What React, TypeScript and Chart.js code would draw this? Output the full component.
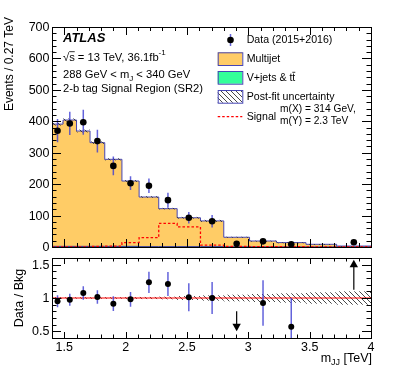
import React, { useEffect, useRef } from 'react';
import { Chart, registerables } from 'chart.js';
Chart.register(...registerables);

// ---------------- data ----------------
const binEdges = [1.40, 1.49, 1.60, 1.71, 1.83, 1.97, 2.11, 2.27, 2.42, 2.61, 2.80, 3.01, 3.23, 3.47, 3.72, 4.00];
const multijet = [389, 402, 367, 330, 277, 208, 158, 121, 92, 82, 30.5, 18.7, 13.8, 8.5, 2.9];
const vjets = [2, 2, 2, 2, 2, 2, 1, 1, 1, 1, 0.5, 0.3, 0.2, 0.1, 0.1];
const bkgRelUnc = [0.012, 0.012, 0.012, 0.012, 0.012, 0.014, 0.016, 0.02, 0.03, 0.04, 0.05, 0.06, 0.07, 0.085, 0.1];
const signal = [0, 0, 0.5, 2, 3, 14, 30, 75, 64, 6, 2, 1, 1, 0.5, 0.5];
const dataVals: (number | null)[] = [370, 393, 397, 337, 258, 203, 195, 149, 93, 82, 10, 18, 8.6, null, 15];
const dataErr: (number | null)[] = [37, 37, 40, 36, 30, 22, 23, 24, 18, 20, 3.6, 4.7, 3.1, null, 3.8];
const ratioVals: (number | null)[] = [0.95, 0.975, 1.075, 1.015, 0.915, 0.98, 1.235, 1.21, 1.01, 1.0, null, 0.925, 0.57, null, null];
const ratioErr: (number | null)[] = [0.09, 0.09, 0.1, 0.1, 0.11, 0.11, 0.16, 0.18, 0.21, 0.24, null, 0.34, 0.43, null, null];
const arrowX = [2.905, 3.86];
const arrowFrom = [0.8, 1.125];
const arrowTo = [0.5, 1.575];
const xTickValues = [1.5, 2, 2.5, 3, 3.5, 4];
const xTickLabels = ['1.5', '2', '2.5', '3', '3.5', '4'];
const yTickValues = [0, 100, 200, 300, 400, 500, 600, 700];
const yTickLabels = ['0', '100', '200', '300', '400', '500', '600', '700'];
const rTickValues = [0.5, 1, 1.5];
const rTickLabels = ['0.5', '1', '1.5'];

const FONT = '"Liberation Sans", Arial, Helvetica, sans-serif';
const fnt = (size: number, style = '') => `${style} ${size}px ${FONT}`.trim();

const ORANGE = '#ffcc66';
const GREEN = '#33ff99';
const BLUE_EDGE = '#4646b4';
const ERR_BLUE = 'rgba(60,60,210,0.8)';

const centers = binEdges.slice(0, -1).map((e, i) => (e + binEdges[i + 1]) / 2);
const total = multijet.map((v, i) => v + vjets[i]);
const histPoints = (vals: number[]) => binEdges.map((e, i) => ({ x: e, y: vals[Math.min(i, vals.length - 1)] }));

let hatchPattern: CanvasPattern | null = null;
function getHatch(ctx: CanvasRenderingContext2D) {
  if (hatchPattern) return hatchPattern;
  const c = document.createElement('canvas');
  c.width = 5; c.height = 5;
  const g = c.getContext('2d')!;
  g.strokeStyle = '#333';
  g.lineWidth = 0.9;
  g.beginPath();
  g.moveTo(-1, -1); g.lineTo(6, 6);
  g.moveTo(-1, 4); g.lineTo(1, 6);
  g.moveTo(4, -1); g.lineTo(6, 1);
  g.stroke();
  hatchPattern = ctx.createPattern(c, 'repeat');
  return hatchPattern!;
}

type Part = { t: string; sub?: boolean; sup?: boolean; over?: boolean };
function drawRich(ctx: CanvasRenderingContext2D, x: number, y: number, parts: Part[], size: number, align: 'left' | 'right' = 'left', style = '') {
  const sizes = parts.map(p => (p.sub || p.sup ? size * 0.72 : size));
  const widths = parts.map((p, i) => { ctx.font = fnt(sizes[i], style); return ctx.measureText(p.t).width; });
  const totalW = widths.reduce((a, b) => a + b, 0);
  let cx = align === 'right' ? x - totalW : x;
  ctx.textAlign = 'left';
  ctx.textBaseline = 'middle';
  parts.forEach((p, i) => {
    ctx.font = fnt(sizes[i], style);
    let dy = 0;
    if (p.sub) dy = size * 0.32;
    if (p.sup) dy = -size * 0.38;
    ctx.fillText(p.t, cx, y + dy);
    if (p.over) {
      ctx.save();
      ctx.strokeStyle = ctx.fillStyle as string;
      ctx.lineWidth = 0.8;
      ctx.beginPath();
      ctx.moveTo(cx, y - size * 0.52);
      ctx.lineTo(cx + widths[i], y - size * 0.52);
      ctx.stroke();
      ctx.restore();
    }
    cx += widths[i];
  });
}

function drawFrameTicks(ctx: CanvasRenderingContext2D, chart: any, xMajor: number, xMinor: number, yStepI: [number, number, number, number], yMajor: number, yMinor: number) {
  const a = chart.chartArea;
  const xs = chart.scales.x, ys = chart.scales.y;
  ctx.save();
  ctx.strokeStyle = '#000';
  ctx.lineWidth = 1;
  ctx.beginPath();
  for (let i = 14; i <= 40; i++) {
    const px = Math.round(xs.getPixelForValue(i / 10)) + 0.5;
    const len = i % 5 === 0 ? xMajor : xMinor;
    ctx.moveTo(px, a.bottom); ctx.lineTo(px, a.bottom - len);
    ctx.moveTo(px, a.top); ctx.lineTo(px, a.top + len);
  }
  const [i0, i1, div, majEvery] = yStepI;
  for (let i = i0; i <= i1; i++) {
    const py = Math.round(ys.getPixelForValue(i / div)) + 0.5;
    const len = i % majEvery === 0 ? yMajor : yMinor;
    ctx.moveTo(a.left, py); ctx.lineTo(a.left + len, py);
    ctx.moveTo(a.right, py); ctx.lineTo(a.right - len, py);
  }
  ctx.stroke();
  ctx.strokeRect(Math.round(a.left) + 0.5, Math.round(a.top) + 0.5, Math.round(a.right - a.left), Math.round(a.bottom - a.top));
  ctx.restore();
}

// ---------------- main panel plugin ----------------
const mainPlugin = {
  id: 'mainDecor',
  afterDatasetDraw(chart: any, args: any) {
    const ctx: CanvasRenderingContext2D = chart.ctx;
    const xs = chart.scales.x, ys = chart.scales.y;
    if (args.index === 1) {
      ctx.save();
      ctx.fillStyle = getHatch(ctx);
      for (let i = 0; i < total.length; i++) {
        const x0 = xs.getPixelForValue(binEdges[i]);
        const x1 = xs.getPixelForValue(binEdges[i + 1]);
        const y0 = ys.getPixelForValue(total[i] * (1 + bkgRelUnc[i]));
        const y1 = ys.getPixelForValue(total[i] * (1 - bkgRelUnc[i]));
        ctx.fillRect(x0, y0, x1 - x0, Math.max(1, y1 - y0));
      }
      ctx.restore();
    }
  },
  beforeDatasetDraw(chart: any, args: any) {
    if (args.index !== 3) return;
    const ctx: CanvasRenderingContext2D = chart.ctx;
    const xs = chart.scales.x, ys = chart.scales.y;
    ctx.save();
    ctx.strokeStyle = ERR_BLUE;
    ctx.lineWidth = 1.5;
    ctx.beginPath();
    dataVals.forEach((v, i) => {
      const e = dataErr[i];
      if (v == null || e == null) return;
      const px = xs.getPixelForValue(centers[i]);
      ctx.moveTo(px, ys.getPixelForValue(v - e));
      ctx.lineTo(px, ys.getPixelForValue(v + e));
    });
    ctx.stroke();
    ctx.restore();
  },
  afterDraw(chart: any) {
    const ctx: CanvasRenderingContext2D = chart.ctx;
    const a = chart.chartArea;
    const ys = chart.scales.y;
    drawFrameTicks(ctx, chart, 8, 4, [0, 35, 0.05, 5], 9, 4.5);
    ctx.save();
    ctx.fillStyle = '#000';
    ctx.font = fnt(12.5);
    ctx.textAlign = 'right';
    ctx.textBaseline = 'middle';
    yTickValues.forEach((v, i) => ctx.fillText(yTickLabels[i], a.left - 2.5, ys.getPixelForValue(v) + 0.5));
    ctx.save();
    ctx.translate(9.5, 17);
    ctx.rotate(-Math.PI / 2);
    ctx.font = fnt(12);
    ctx.textAlign = 'right';
    ctx.textBaseline = 'middle';
    ctx.fillText('Events / 0.27 TeV', 0, 0);
    ctx.restore();
    ctx.font = fnt(13, 'italic bold');
    ctx.textAlign = 'left';
    ctx.textBaseline = 'middle';
    ctx.fillText('ATLAS', 63, 38.5);
    drawRich(ctx, 63, 57.5, [{ t: '\u221A' }, { t: 's', over: true }, { t: ' = 13 TeV, 36.1fb' }, { t: '-1', sup: true }], 11.2);
    drawRich(ctx, 63, 75, [{ t: '288 GeV < m' }, { t: 'J', sub: true }, { t: ' < 340 GeV' }], 11.2);
    drawRich(ctx, 63, 88.5, [{ t: '2-b tag Signal Region (SR2)' }], 11.2);

    const bx = 217.7, bw = 24.6, tx = 246.7;
    ctx.strokeStyle = ERR_BLUE;
    ctx.lineWidth = 1.5;
    ctx.beginPath(); ctx.moveTo(230.5, 34); ctx.lineTo(230.5, 46); ctx.stroke();
    ctx.fillStyle = '#000';
    ctx.beginPath(); ctx.arc(230.5, 40, 3.3, 0, Math.PI * 2); ctx.fill();
    drawRich(ctx, tx, 40.5, [{ t: 'Data (2015+2016)' }], 10.6);
    const boxes: [number, string | CanvasPattern][] = [[52.3, ORANGE], [71, GREEN], [90, getHatch(ctx)]];
    boxes.forEach(([y, fill]) => {
      ctx.fillStyle = '#fff';
      ctx.fillRect(bx, y, bw, 12.7);
      ctx.fillStyle = fill as any;
      ctx.fillRect(bx, y, bw, 12.7);
      ctx.strokeStyle = BLUE_EDGE;
      ctx.lineWidth = 1;
      ctx.strokeRect(bx + 0.5, y + 0.5, bw, 12.7);
    });
    ctx.fillStyle = '#000';
    drawRich(ctx, tx, 59.2, [{ t: 'Multijet' }], 10.6);
    drawRich(ctx, tx, 77.8, [{ t: 'V+jets & t' }, { t: 't', over: true }], 10.6);
    drawRich(ctx, tx, 97.2, [{ t: 'Post-fit uncertainty' }], 10.6);
    ctx.strokeStyle = '#ff0000';
    ctx.lineWidth = 1.2;
    ctx.setLineDash([2.5, 2]);
    ctx.beginPath(); ctx.moveTo(bx, 116.7); ctx.lineTo(bx + bw, 116.7); ctx.stroke();
    ctx.setLineDash([]);
    drawRich(ctx, tx, 117, [{ t: 'Signal' }], 10.6);
    drawRich(ctx, 280, 109.2, [{ t: 'm(X) = 314 GeV,' }], 10.2);
    drawRich(ctx, 280, 121, [{ t: 'm(Y) = 2.3 TeV' }], 10.2);
    ctx.restore();
  },
};

// ---------------- ratio panel plugin ----------------
const ratioPlugin = {
  id: 'ratioDecor',
  beforeDatasetsDraw(chart: any) {
    const ctx: CanvasRenderingContext2D = chart.ctx;
    const xs = chart.scales.x, ys = chart.scales.y;
    ctx.save();
    ctx.fillStyle = getHatch(ctx);
    for (let i = 0; i < bkgRelUnc.length; i++) {
      const x0 = xs.getPixelForValue(binEdges[i]);
      const x1 = xs.getPixelForValue(binEdges[i + 1]);
      const y0 = ys.getPixelForValue(1 + bkgRelUnc[i]);
      const y1 = ys.getPixelForValue(1 - bkgRelUnc[i]);
      ctx.fillRect(x0, y0, x1 - x0, y1 - y0);
    }
    ctx.restore();
  },
  beforeDatasetDraw(chart: any, args: any) {
    if (args.index !== 1) return;
    const ctx: CanvasRenderingContext2D = chart.ctx;
    const xs = chart.scales.x, ys = chart.scales.y;
    const a = chart.chartArea;
    ctx.save();
    ctx.beginPath();
    ctx.rect(a.left, a.top, a.right - a.left, a.bottom - a.top);
    ctx.clip();
    ctx.strokeStyle = ERR_BLUE;
    ctx.lineWidth = 1.5;
    ctx.beginPath();
    ratioVals.forEach((v, i) => {
      const e = ratioErr[i];
      if (v == null || e == null) return;
      const px = xs.getPixelForValue(centers[i]);
      ctx.moveTo(px, ys.getPixelForValue(v - e));
      ctx.lineTo(px, ys.getPixelForValue(v + e));
    });
    ctx.stroke();
    ctx.restore();
  },
  afterDraw(chart: any) {
    const ctx: CanvasRenderingContext2D = chart.ctx;
    const a = chart.chartArea;
    const xs = chart.scales.x, ys = chart.scales.y;
    ctx.save();
    ctx.strokeStyle = '#000';
    ctx.fillStyle = '#000';
    ctx.lineWidth = 1.2;
    arrowX.forEach((xv, i) => {
      const px = xs.getPixelForValue(xv);
      const p0 = ys.getPixelForValue(arrowFrom[i]);
      const p1 = ys.getPixelForValue(arrowTo[i]);
      const dir = p1 > p0 ? 1 : -1;
      ctx.beginPath(); ctx.moveTo(px, p0); ctx.lineTo(px, p1 - dir * 6); ctx.stroke();
      ctx.beginPath();
      ctx.moveTo(px, p1);
      ctx.lineTo(px - 4.2, p1 - dir * 7.5);
      ctx.lineTo(px + 4.2, p1 - dir * 7.5);
      ctx.closePath();
      ctx.fill();
    });
    ctx.restore();
    drawFrameTicks(ctx, chart, 6, 3.5, [4, 16, 10, 5], 9, 4.5);
    ctx.save();
    ctx.fillStyle = '#000';
    ctx.font = fnt(12.5);
    ctx.textAlign = 'right';
    ctx.textBaseline = 'middle';
    rTickValues.forEach((v, i) => ctx.fillText(rTickLabels[i], a.left - 2.5, ys.getPixelForValue(v) + 0.5));
    ctx.textAlign = 'center';
    xTickValues.forEach((v, i) => ctx.fillText(xTickLabels[i], xs.getPixelForValue(v), a.bottom + 9.5));
    ctx.save();
    ctx.translate(20, (a.top + a.bottom) / 2);
    ctx.rotate(-Math.PI / 2);
    ctx.font = fnt(12.5);
    ctx.textAlign = 'center';
    ctx.textBaseline = 'middle';
    ctx.fillText('Data / Bkg', 0, 0);
    ctx.restore();
    drawRich(ctx, a.right + 1, a.bottom + 21, [{ t: 'm' }, { t: 'JJ', sub: true }, { t: ' [TeV]' }], 12.5, 'right');
    ctx.restore();
  },
};

function baseOptions(padding: any, yMin: number, yMax: number) {
  return {
    responsive: false,
    animation: false as const,
    devicePixelRatio: 1,
    events: [] as any[],
    layout: { padding },
    plugins: { legend: { display: false }, tooltip: { enabled: false }, title: { display: false } },
    scales: {
      x: { type: 'linear' as const, min: 1.4, max: 4.0, display: false },
      y: { type: 'linear' as const, min: yMin, max: yMax, display: false },
    },
  };
}

export default function App() {
  const mainRef = useRef<HTMLCanvasElement>(null);
  const ratioRef = useRef<HTMLCanvasElement>(null);
  useEffect(() => {
    const main = new Chart(mainRef.current!, {
      type: 'line',
      data: {
        datasets: [
          {
            label: 'Multijet', data: histPoints(total), stepped: 'before', fill: 1,
            backgroundColor: ORANGE, borderColor: BLUE_EDGE, borderWidth: 1, pointRadius: 0, order: 4,
          } as any,
          {
            label: 'V+jets & tt', data: histPoints(vjets), stepped: 'before', fill: 'origin',
            backgroundColor: GREEN, borderColor: '#30309a', borderWidth: 1, pointRadius: 0, order: 3,
          },
          {
            label: 'Signal', data: histPoints(signal), stepped: 'before', fill: false,
            borderColor: '#ff0000', borderWidth: 1.3, borderDash: [2.5, 2], pointRadius: 0, order: 2,
          },
          {
            label: 'Data', data: centers.map((c, i) => ({ x: c, y: dataVals[i] })), showLine: false,
            pointRadius: 3.3, pointBackgroundColor: '#000', pointBorderWidth: 0, borderColor: '#000', order: 1,
          } as any,
        ],
      },
      options: baseOptions({ left: 52, right: 28, top: 27, bottom: 5 }, 0, 700) as any,
      plugins: [mainPlugin],
    });
    const ratio = new Chart(ratioRef.current!, {
      type: 'line',
      data: {
        datasets: [
          {
            label: 'unity', data: [{ x: 1.4, y: 1 }, { x: 4.0, y: 1 }], borderColor: '#ff0000', borderWidth: 1.2,
            pointRadius: 0, fill: false, order: 2,
          },
          {
            label: 'Data / Bkg', data: centers.map((c, i) => ({ x: c, y: ratioVals[i] })), showLine: false,
            pointRadius: 3, pointBackgroundColor: '#000', pointBorderWidth: 0, borderColor: '#000', order: 1,
          } as any,
        ],
      },
      options: baseOptions({ left: 52, right: 28, top: 6, bottom: 45 }, 0.4, 1.6) as any,
      plugins: [ratioPlugin],
    });
    return () => { main.destroy(); ratio.destroy(); };
  }, []);
  return (
    <div style={{ position: 'fixed', left: 0, top: 0, width: 399, height: 383, background: '#fff' }}>
      <canvas ref={mainRef} width={399} height={252} style={{ position: 'absolute', left: 0, top: 0, width: 399, height: 252 }} />
      <canvas ref={ratioRef} width={399} height={131} style={{ position: 'absolute', left: 0, top: 252, width: 399, height: 131 }} />
    </div>
  );
}
